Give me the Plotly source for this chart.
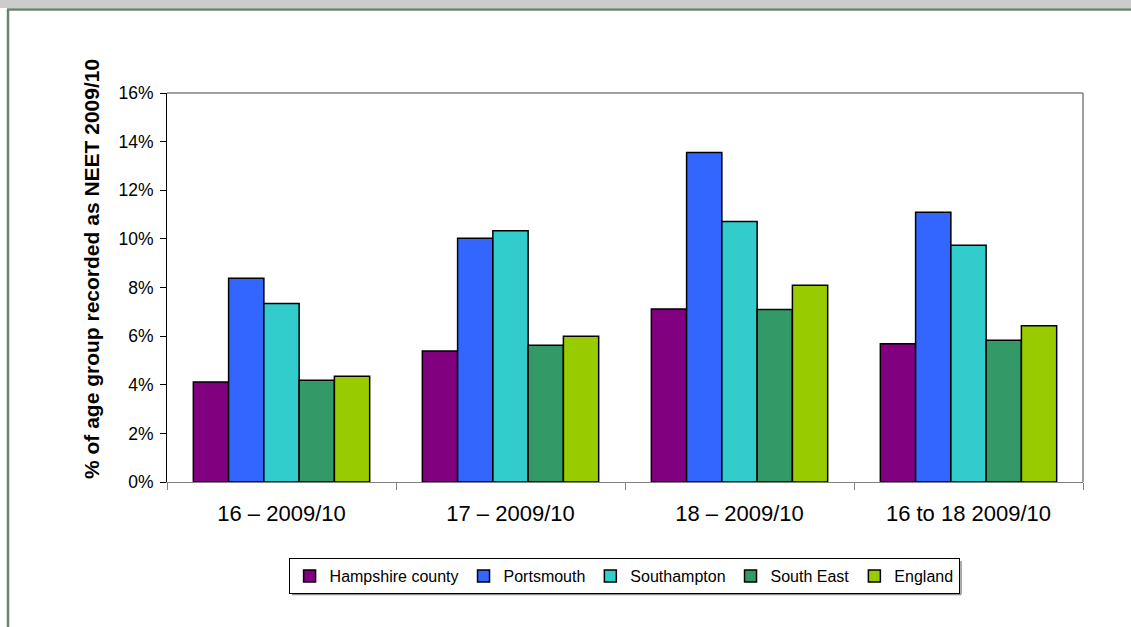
import plotly.graph_objects as go

categories = ["16 \u2013 2009/10", "17 \u2013 2009/10", "18 \u2013 2009/10", "16 to 18 2009/10"]
series_names = ["Hampshire county", "Portsmouth", "Southampton", "South East", "England"]
hampshire = [0.0411, 0.0539, 0.0712, 0.0569]
portsmouth = [0.0838, 0.1003, 0.1355, 0.1110]
southampton = [0.0734, 0.1033, 0.1071, 0.0974]
south_east = [0.0418, 0.0562, 0.0710, 0.0583]
england = [0.0435, 0.0600, 0.0809, 0.0643]
colors = ["#800080", "#3366FF", "#33CCCC", "#339966", "#99CC00"]
y_ticks = [0, 0.02, 0.04, 0.06, 0.08, 0.10, 0.12, 0.14, 0.16]

values = [hampshire, portsmouth, southampton, south_east, england]

W, H = 1131, 627
L, R, T, B = 167, 1083, 93, 482

def px(x):
    return (x - L) / (R - L)

def py(y):
    return (B - y) / (B - T)

fig = go.Figure()
for name, vals, col in zip(series_names, values, colors):
    fig.add_trace(go.Bar(
        x=categories, y=vals, name=name,
        marker=dict(color=col, line=dict(color="#000000", width=1.5)),
    ))

font = "Liberation Sans, Arial, sans-serif"
fig.update_layout(
    width=W, height=H,
    margin=dict(l=L, r=W - R, t=T, b=H - B),
    paper_bgcolor="white", plot_bgcolor="white",
    barmode="group", bargap=0.23, bargroupgap=0,
    font=dict(family=font, size=17, color="#000000"),
    showlegend=True,
    legend=dict(
        orientation="h", x=0.499, xanchor="center", y=py(558), yanchor="top",
        bordercolor="#000000", borderwidth=1, bgcolor="white",
        font=dict(size=16, family=font), traceorder="normal",
        itemwidth=30, tracegroupgap=0,
    ),
    xaxis=dict(
        showline=True, linecolor="#808080", linewidth=1,
        ticks="outside", tickson="boundaries", ticklen=7, tickcolor="#808080",
        tickfont=dict(size=22), showgrid=False, ticklabelstandoff=12,
    ),
    yaxis=dict(
        range=[0, 0.16], tickvals=y_ticks, tickformat=".0%",
        showline=True, linecolor="#000000", linewidth=1,
        ticks="outside", ticklen=6, tickcolor="#000000",
        showgrid=False, zeroline=False, tickfont=dict(size=17.5),
        ticklabelstandoff=3,
    ),
    annotations=[dict(
        text="<b>% of age group recorded as NEET 2009/10</b>",
        xref="paper", yref="paper", x=px(91), y=py(269),
        xanchor="center", yanchor="middle", textangle=-90,
        showarrow=False, font=dict(size=21, family=font, color="#000000"),
    )],
    shapes=[
        # plot border top and right (grey)
        dict(type="line", xref="paper", yref="paper", x0=0, x1=1, y0=1, y1=1,
             line=dict(color="#808080", width=1.5)),
        dict(type="line", xref="paper", yref="paper", x0=1, x1=1, y0=0, y1=1,
             line=dict(color="#808080", width=1.5)),
        # top grey band
        dict(type="rect", xref="paper", yref="paper", x0=px(0), x1=px(W),
             y0=py(8), y1=py(0), fillcolor="#CCCCCC", line=dict(width=0), layer="below"),
        # frame lines
        dict(type="line", xref="paper", yref="paper", x0=px(7), x1=px(W),
             y0=py(9.5), y1=py(9.5), line=dict(color="#6B8472", width=2.5)),
        dict(type="line", xref="paper", yref="paper", x0=px(8), x1=px(8),
             y0=py(9.5), y1=py(627), line=dict(color="#6B8472", width=2.5)),
        # legend shadow
        dict(type="line", xref="paper", yref="paper", x0=px(292), x1=px(961),
             y0=py(594.5), y1=py(594.5), line=dict(color="#909090", width=1.5)),
        dict(type="line", xref="paper", yref="paper", x0=px(961), x1=px(961),
             y0=py(561), y1=py(594.5), line=dict(color="#909090", width=1.5)),
    ],
)

fig.write_html("out.html", config={"displayModeBar": False},
               post_script="document.body.style.margin='0';document.body.style.padding='0';")
